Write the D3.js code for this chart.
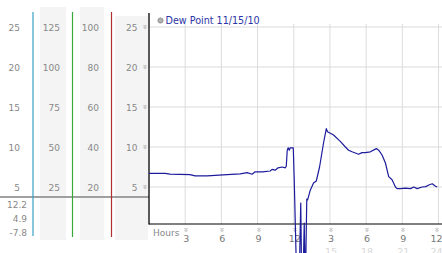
<!DOCTYPE html>
<html><head><meta charset="utf-8">
<script src="https://cdn.jsdelivr.net/npm/d3@7"></script>
<style>
html,body{margin:0;padding:0;background:#fff;overflow:hidden}
svg{display:block;font-family:"DejaVu Sans",Verdana,sans-serif}
</style></head><body>
<svg id="c" width="442" height="253"></svg>
<script>
// ---- data ----
const seriesName = "Dew Point 11/15/10";
const hours = [0,1.33,1.74,3.4,3.82,4.82,5.48,6.48,7.56,8.14,8.55,8.8,9.4,10.05,10.2,10.46,10.7,11.04,11.3,11.38,11.46,11.54,11.63,11.71,11.96,12.04,12.2,12.29,12.46,12.58,12.66,12.79,12.87,12.96,13.08,13.15,13.37,13.64,13.87,14.14,14.47,14.7,14.8,15.3,15.86,16.28,16.55,16.83,17.38,17.66,17.94,18.35,18.85,19.04,19.32,19.6,19.87,20.15,20.43,20.57,20.84,21.26,21.68,21.95,22.23,22.65,22.94,23.2,23.48,23.75,23.9];
const dewPoint = [6.7,6.7,6.6,6.55,6.4,6.4,6.45,6.55,6.65,6.8,6.6,6.9,6.9,7.0,7.2,7.1,7.4,7.5,7.4,7.6,9.6,9.9,9.6,9.9,9.9,5.9,-4,-7.8,-6,3.0,-7,-5,0.5,-7.8,3.5,3.4,4.6,5.5,5.75,7.5,10.5,12.3,11.9,11.5,10.7,10.0,9.6,9.4,9.1,9.3,9.3,9.4,9.8,9.6,9.0,8.0,6.3,5.9,5.0,4.8,4.8,4.85,4.8,5.0,4.8,5.0,5.05,5.25,5.4,5.1,5.0];
const yTicks = [25,20,15,10,5];
const col1Ticks = [25,20,15,10,5];
const col2Ticks = [125,100,75,50,25];
const col3Ticks = [100,80,60,40,20];
const stats = ["12.2","4.9","-7.8"];
const xTickHours = [3,6,9,12,15,18,21,24];
const xTickLabels = ["3","6","9","12","3","6","9","12"];
const xTickLabels2 = ["","","","","15","18","21","24"];

const svg = d3.select("#c");
const x = d3.scaleLinear().domain([0,24]).range([149,438.5]);
const y = d3.scaleLinear().domain([0,25]).range([227,27]);
const y2 = d3.scaleLinear().domain([0,125]).range([227,27]);
const y3 = d3.scaleLinear().domain([0,100]).range([227,27]);
const plotTop = 13, plotBottom = 224;
const labelX = d => Math.min(x(d) + 1, 436.5);

// tick mark symbol (small checker)
const defs = svg.append("defs");
const sym = defs.append("g").attr("id","tk");
[[0,0],[2,0],[1,1],[0,2],[2,2],[1,3]].forEach(p=>
  sym.append("rect").attr("x",p[0]-1.5).attr("y",p[1]-2).attr("width",1).attr("height",1).attr("fill","#a8a8a8"));

// left panel backgrounds
const bg = [[40,7,26],[80,7,24],[115,16,33]];
bg.forEach(b=>svg.append("rect").attr("x",b[0]).attr("y",b[1]).attr("width",b[2]).attr("height",240-b[1]).attr("fill","#f4f4f4"));

// separator line
svg.append("line").attr("x1",0).attr("x2",149).attr("y1",197).attr("y2",197).attr("stroke","#a0a0a0").attr("stroke-width",2);

// colored vertical lines
[[33,"#3aa0c8",236],[72.5,"#3aaa3a",237],[111.5,"#b03030",237]].forEach(l=>
  svg.append("line").attr("x1",l[0]).attr("x2",l[0]).attr("y1",12).attr("y2",l[2]).attr("stroke",l[1]).attr("stroke-width",1.2));

const lab = (data, scale, xr, fill) => svg.append("g").selectAll("text").data(data).join("text")
  .attr("x",xr).attr("y",d=>scale(d)+3.5).attr("text-anchor","end")
  .attr("font-size",9).attr("fill",fill).text(d=>d);
lab(col1Ticks, y, 20, "#888");
lab(col2Ticks, y2, 60, "#888");
lab(col3Ticks, y3, 99, "#888");
lab(yTicks, y, 137.5, "#888");

// stats
svg.append("g").selectAll("text").data(stats).join("text")
  .attr("x",27).attr("y",(d,i)=>208+i*14).attr("text-anchor","end")
  .attr("font-size",9).attr("fill","#888").text(d=>d);

// y tick marks
svg.append("g").selectAll("use").data(yTicks).join("use")
  .attr("href","#tk").attr("transform",d=>`translate(145,${Math.round(y(d))})`);

// grid
svg.append("g").selectAll("line").data(yTicks).join("line")
  .attr("x1",149).attr("x2",442).attr("y1",d=>y(d)).attr("y2",d=>y(d))
  .attr("stroke","#dcdcdc").attr("stroke-width",1);
svg.append("g").selectAll("line").data(xTickHours).join("line")
  .attr("x1",d=>x(d)).attr("x2",d=>x(d)).attr("y1",24).attr("y2",plotBottom)
  .attr("stroke","#dcdcdc").attr("stroke-width",1);

// legend
svg.append("circle").attr("cx",160.5).attr("cy",20.5).attr("r",2.6).attr("fill","#b0b0b0").attr("stroke","#888").attr("stroke-width",0.8);
svg.append("text").attr("x",165.5).attr("y",24.3).attr("font-size",9.6).attr("fill","#2b34a6").text(seriesName);

// x axis labels
svg.append("text").attr("x",153).attr("y",235.5).attr("font-size",9).attr("fill","#888").text("Hours");
svg.append("g").selectAll("use").data(xTickHours).join("use")
  .attr("href","#tk").attr("transform",d=>`translate(${Math.round(labelX(d))},230)`);
svg.append("g").selectAll("text").data(xTickHours).join("text")
  .attr("x",labelX).attr("y",242).attr("text-anchor","middle")
  .attr("font-size",9.5).attr("fill","#777").text((d,i)=>xTickLabels[i]);
svg.append("g").selectAll("text").data(xTickHours).join("text")
  .attr("x",labelX).attr("y",255).attr("text-anchor","middle")
  .attr("font-size",9.5).attr("fill","#d8d8d8").text((d,i)=>xTickLabels2[i]);

// axes
svg.append("line").attr("x1",149).attr("x2",149).attr("y1",plotTop).attr("y2",plotBottom+0.5).attr("stroke","#000").attr("stroke-width",1.3);
svg.append("line").attr("x1",149).attr("x2",442).attr("y1",plotBottom).attr("y2",plotBottom).attr("stroke","#000").attr("stroke-width",1);

// series
const line = d3.line().x((d,i)=>x(hours[i])).y(d=>y(d));
svg.append("path").datum(dewPoint).attr("d",line).attr("fill","none")
  .attr("stroke","#1c1c9c").attr("stroke-width",1.2).attr("stroke-linejoin","round");
</script></body></html>
